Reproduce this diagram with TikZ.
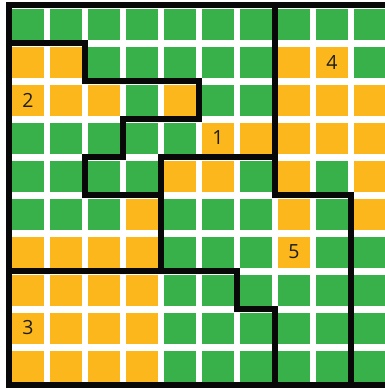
\documentclass[tikz,border=0pt]{standalone}
\usepackage{fontspec}
\setmainfont{Open Sans}
\definecolor{cgreen}{RGB}{57,177,75}
\definecolor{corange}{RGB}{252,183,28}
\definecolor{ctext}{RGB}{30,30,30}
\tikzset{
  cell/.style={fill=cgreen, draw=none, minimum size=31.5pt, inner sep=0pt},
  ocell/.style={fill=corange},
  wall/.style={line width=5.5pt, draw=black!97, line join=miter, line cap=rect},
  lbl/.style={font=\fontsize{19.5}{20}\selectfont, text=ctext, inner sep=0pt}
}
\begin{document}
\begin{tikzpicture}[x=38pt, y=-38pt]
  \useasboundingbox (-9/38,-5/38) rectangle (376/38,384/38);
  % green cells
  \foreach \r in {0,...,9} {
    \foreach \c in {0,...,9} {
      \fill[cgreen] (\c+0.5,\r+0.5) +(-15.75pt,-15.5pt) rectangle +(15.75pt,15.5pt);
    }
  }
  % orange cells
  \foreach \r/\cols in {1/{0,1,7,8}, 2/{0,1,2,4,7,8,9}, 3/{5,6,7,8,9}, 4/{4,5,7,9}, 5/{3,7,9}, 6/{0,1,2,3,7}, 7/{0,1,2,3}, 8/{0,1,2,3}, 9/{0,1,2,3}} {
    \foreach \c in \cols {
      \fill[corange] (\c+0.5,\r+0.5) +(-15.75pt,-15.5pt) rectangle +(15.75pt,15.5pt);
    }
  }
  % walls
  \draw[wall] (10,0) -- (0,0) -- (0,10) -- (10,10);
  \draw[wall] (0,1) -- (2,1) -- (2,2) -- (5,2) -- (5,3) -- (3,3) -- (3,4) -- (2,4) -- (2,5) -- (4,5);
  \draw[wall] (7,4) -- (4,4) -- (4,7);
  \draw[wall] (0,7) -- (6,7) -- (6,8) -- (7,8) -- (7,10);
  \draw[wall] (7,0) -- (7,5) -- (9,5) -- (9,10);
  % labels
  \node[lbl] (l1) at (5.5,3.5) {1};
  \node[lbl] (l2) at (0.5,2.5) {2};
  \node[lbl] (l3) at (0.5,8.5) {3};
  \node[lbl] (l4) at (8.5,1.5) {4};
  \node[lbl] (l5) at (7.5,6.5) {5};
\end{tikzpicture}
\end{document}
